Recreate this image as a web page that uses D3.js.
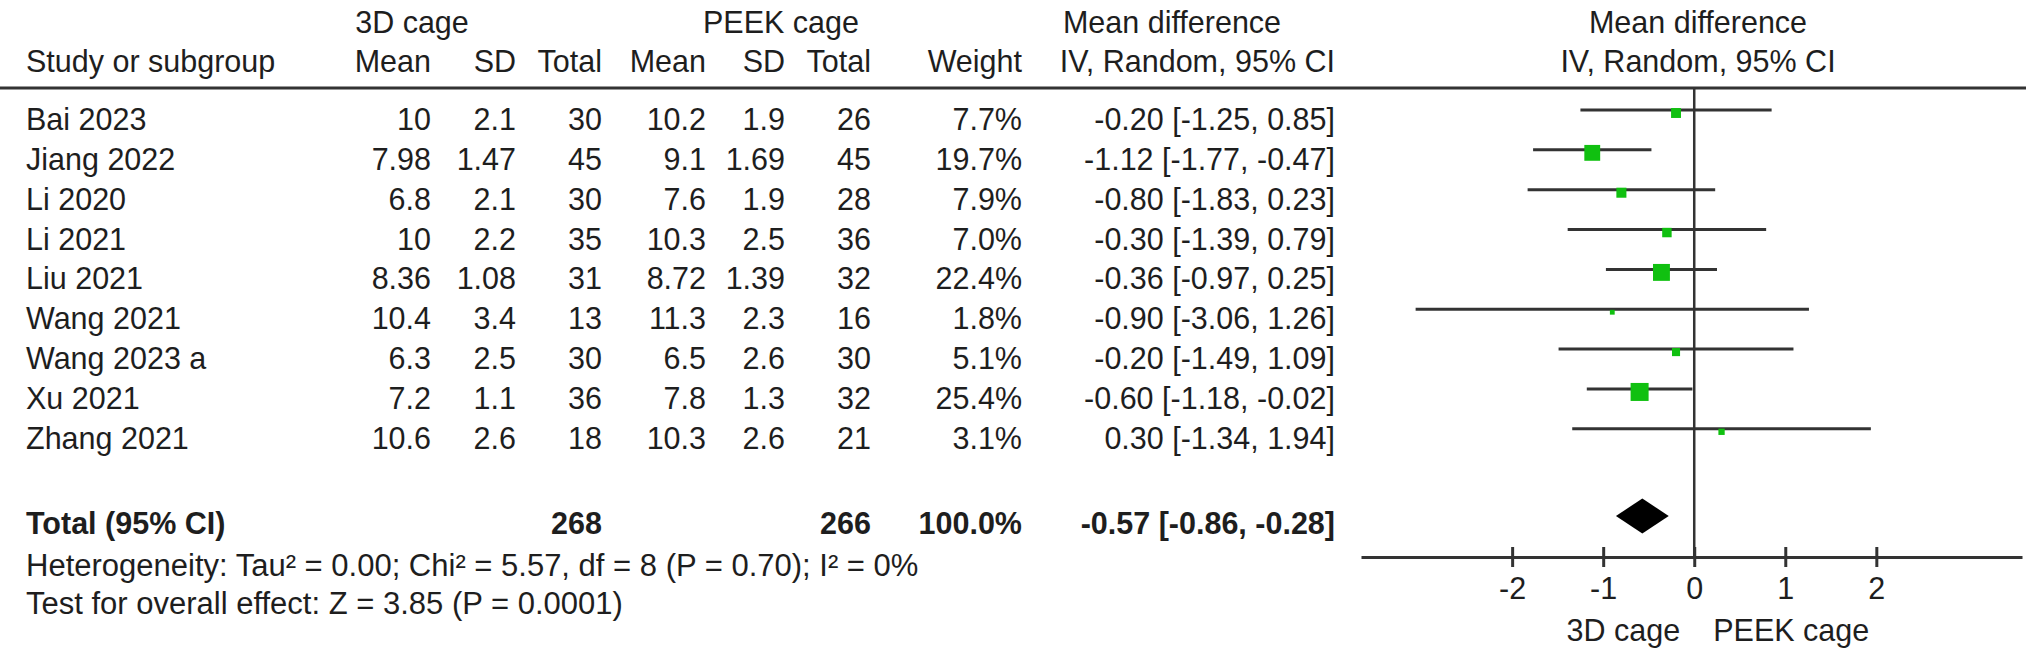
<!DOCTYPE html>
<html>
<head>
<meta charset="utf-8">
<script src="https://cdn.jsdelivr.net/npm/d3@7"></script>
<style>
  body { margin: 0; background: #fff; }
  text { font-family: "Liberation Sans", Arial, sans-serif; fill: #1e1e1e; }
</style>
</head>
<body>
<svg id="plot" width="2032" height="655"></svg>
<script>
// study table
var studies = ["Bai 2023", "Jiang 2022", "Li 2020", "Li 2021", "Liu 2021", "Wang 2021", "Wang 2023 a", "Xu 2021", "Zhang 2021"];
var mean3d = [10, 7.98, 6.8, 10, 8.36, 10.4, 6.3, 7.2, 10.6];
var sd3d = [2.1, 1.47, 2.1, 2.2, 1.08, 3.4, 2.5, 1.1, 2.6];
var n3d = [30, 45, 30, 35, 31, 13, 30, 36, 18];
var meanPeek = [10.2, 9.1, 7.6, 10.3, 8.72, 11.3, 6.5, 7.8, 10.3];
var sdPeek = [1.9, 1.69, 1.9, 2.5, 1.39, 2.3, 2.6, 1.3, 2.6];
var nPeek = [26, 45, 28, 36, 32, 16, 30, 32, 21];
var weight = [7.7, 19.7, 7.9, 7.0, 22.4, 1.8, 5.1, 25.4, 3.1];
var md = [-0.20, -1.12, -0.80, -0.30, -0.36, -0.90, -0.20, -0.60, 0.30];
var ciLow = [-1.25, -1.77, -1.83, -1.39, -0.97, -3.06, -1.49, -1.18, -1.34];
var ciHigh = [0.85, -0.47, 0.23, 0.79, 0.25, 1.26, 1.09, -0.02, 1.94];

// pooled result
var totalN = [268, 266];
var totalWeight = 100.0;
var totalMd = [-0.57, -0.86, -0.28];   // estimate, low, high

var axisTicks = [-2, -1, 0, 1, 2];
var axisLabels = ["3D cage", "PEEK cage"];
var footnotes = ["Heterogeneity: Tau\u00b2 = 0.00; Chi\u00b2 = 5.57, df = 8 (P = 0.70); I\u00b2 = 0%",
                 "Test for overall effect: Z = 3.85 (P = 0.0001)"];

var svg = d3.select("#plot");
var FS = 30.5;
var line_color = "#333";

var rowY = function(i) { return 130 + i * 39.85; };   // text baseline per study
var totalY = 534;

// columns: right edges
var cols = [
  {x: 431, head: "Mean", vals: mean3d.map(String)},
  {x: 516, head: "SD", vals: sd3d.map(String)},
  {x: 602, head: "Total", vals: n3d.map(String)},
  {x: 706, head: "Mean", vals: meanPeek.map(String)},
  {x: 785, head: "SD", vals: sdPeek.map(String)},
  {x: 871, head: "Total", vals: nPeek.map(String)},
  {x: 1022, head: "Weight", vals: weight.map(function(w) { return w.toFixed(1) + "%"; })},
  {x: 1335, head: "IV, Random, 95% CI", vals: md.map(function(m, i) {
      return m.toFixed(2) + " [" + ciLow[i].toFixed(2) + ", " + ciHigh[i].toFixed(2) + "]"; })}
];

function txt(x, y, s, anchor, bold, size) {
  return svg.append("text")
    .attr("x", x).attr("y", y)
    .attr("font-size", size || FS)
    .attr("text-anchor", anchor || "start")
    .attr("font-weight", bold ? "bold" : "normal")
    .text(s);
}

// header
txt(412, 33, "3D cage", "middle");
txt(781, 33, "PEEK cage", "middle");
txt(1172, 33, "Mean difference", "middle");
txt(1698, 33, "Mean difference", "middle");
txt(26, 72, "Study or subgroup");
cols.forEach(function(c) { txt(c.x, 72, c.head, "end"); });
txt(1698, 72, "IV, Random, 95% CI", "middle");

svg.append("line")
  .attr("x1", 0).attr("x2", 2026)
  .attr("y1", 88).attr("y2", 88)
  .attr("stroke", line_color).attr("stroke-width", 3);

// study rows
studies.forEach(function(s, i) {
  txt(26, rowY(i), s);
  cols.forEach(function(c) { txt(c.x, rowY(i), c.vals[i], "end"); });
});

// total rows
txt(26, totalY, "Total (95% CI)", "start", true);
txt(cols[2].x, totalY, String(totalN[0]), "end", true);
txt(cols[5].x, totalY, String(totalN[1]), "end", true);
txt(cols[6].x, totalY, totalWeight.toFixed(1) + "%", "end", true);
txt(cols[7].x, totalY, totalMd[0].toFixed(2) + " [" + totalMd[1].toFixed(2) + ", " + totalMd[2].toFixed(2) + "]", "end", true);
txt(26, 576, footnotes[0], "start", false, 31);
txt(26, 614, footnotes[1], "start", false, 31);

// forest plot
var x = d3.scaleLinear().domain([-3.66, 3.6]).range([1361, 2022]);
var axisY = 557;
var side = d3.scaleSqrt().domain([0, 25.4]).range([0, 18]);

svg.append("line")
  .attr("x1", x(0)).attr("x2", x(0))
  .attr("y1", 88).attr("y2", axisY)
  .attr("stroke", line_color).attr("stroke-width", 2.5);

var forest = svg.append("g");
forest.selectAll(".ci").data(studies).enter().append("line")
  .attr("class", "ci")
  .attr("x1", function(d, i) { return x(ciLow[i]); })
  .attr("x2", function(d, i) { return x(ciHigh[i]); })
  .attr("y1", function(d, i) { return rowY(i) - 20; })
  .attr("y2", function(d, i) { return rowY(i) - 20; })
  .attr("stroke", line_color).attr("stroke-width", 3);

forest.selectAll(".sq").data(studies).enter().append("rect")
  .attr("class", "sq")
  .attr("x", function(d, i) { return x(md[i]) - side(weight[i]) / 2; })
  .attr("y", function(d, i) { return rowY(i) - 17 - side(weight[i]) / 2; })
  .attr("width", function(d, i) { return side(weight[i]); })
  .attr("height", function(d, i) { return side(weight[i]); })
  .attr("fill", "#10c010");

var dy = totalY - 18;
forest.append("path")
  .attr("d", "M" + x(totalMd[1]) + "," + dy +
             "L" + x(totalMd[0]) + "," + (dy - 17.5) +
             "L" + x(totalMd[2]) + "," + dy +
             "L" + x(totalMd[0]) + "," + (dy + 17.5) + "Z")
  .attr("fill", "#000");

var ax = svg.append("g")
  .attr("transform", "translate(0," + axisY + ")")
  .call(d3.axisBottom(x).tickValues(axisTicks).tickSizeOuter(0).tickFormat(function(d) { return String(d); }));
ax.select(".domain").attr("stroke", line_color).attr("stroke-width", 3);
ax.selectAll(".tick line").attr("y1", -10).attr("y2", 10).attr("stroke", line_color).attr("stroke-width", 3);
ax.selectAll(".tick text")
  .attr("y", 42).attr("dy", 0)
  .attr("font-size", FS)
  .attr("font-family", "Liberation Sans, Arial, sans-serif")
  .attr("fill", "#1e1e1e");

txt(x(0) - 14, 641, axisLabels[0], "end");
txt(x(0) + 19, 641, axisLabels[1], "start");
</script>
</body>
</html>
